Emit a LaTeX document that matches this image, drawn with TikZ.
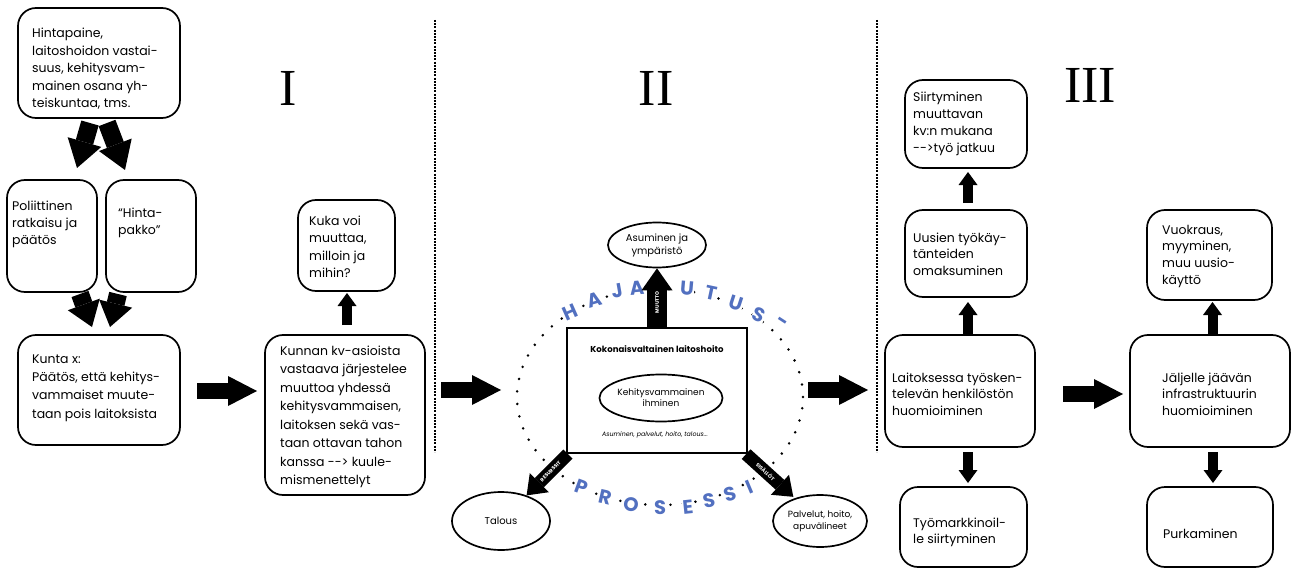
\documentclass[tikz,border=0pt]{standalone}
\usepackage{fontspec}
\setmainfont{Poppins}
\newfontfamily\numfont{Liberation Serif}
\usetikzlibrary{arrows.meta,calc,shapes.geometric}
\definecolor{letblue}{RGB}{82,112,192}
\newcommand\mylines[1]{\begin{tabular}[t]{@{}l@{}}#1\end{tabular}}
\begin{document}
\begin{tikzpicture}[x=1pt,y=-1pt,
 box/.style={draw, line width=1.7pt, rounded corners=18pt, inner sep=0pt, outer sep=0pt},
 txt/.style={anchor=base west, inner sep=0pt, font=\fontsize{12.5}{#1}\selectfont},
 txt/.default=17.5,
 oval/.style={draw, ellipse, line width=1.7pt, inner sep=0pt, align=center, font=\fontsize{9.5}{12.5}\selectfont},
 bigarr/.style={line width=16pt, -{Triangle[length=29pt,width=30pt,line width=0pt]}},
 diagarr/.style={line width=18pt, -{Triangle[length=27pt,width=35pt,line width=0pt]}},
 downarr/.style={line width=18pt, -{Triangle[length=24pt,width=34pt,line width=0pt]}},
 smallarr/.style={line width=10pt, -{Triangle[length=13pt,width=19pt,line width=0pt]}},
 midarr/.style={line width=13pt, -{Triangle[length=18pt,width=27pt,line width=0pt]}},
 muuarr/.style={line width=20pt, -{Triangle[length=22pt,width=31pt,line width=0pt]}},
 arrlab/.style={text=white, font=\fontsize{5}{5}\selectfont\bfseries, inner sep=0pt, sloped},
 sep/.style={line width=1.3pt, dash pattern=on 2pt off 1.2pt},
 letter/.style={text=letblue, font=\fontsize{19.5}{19.5}\selectfont\bfseries, fill=white, inner sep=0.5pt},
 numeral/.style={font=\numfont\fontsize{52}{52}\selectfont, inner sep=0pt}
]
\useasboundingbox (0,0) rectangle (1296,575);

% ---------- Section I ----------
\node[numeral] (n1) at (288,88) {I};
\node[box, minimum width=162pt, minimum height=110pt] (bA) at (99,63) {};
\node[txt] (tA) at (32,38) {\mylines{Hintapaine,\\laitoshoidon vastai-\\suus, kehitysvam-\\mainen osana yh-\\teiskuntaa, tms.}};
\node[box, minimum width=90pt, minimum height=112pt] (bB) at (52,236) {};
\node[txt] (tB) at (12,210) {\mylines{Poliittinen\\ratkaisu ja\\päätös}};
\node[box, minimum width=90pt, minimum height=112pt] (bC) at (151,236) {};
\node[txt] (tC) at (118,217) {\mylines{“Hinta-\\pakko”}};
\node[box, minimum width=162pt, minimum height=110pt] (bD) at (99,390) {};
\node[txt=18.4] (tD) at (32,363) {\mylines{Kunta x:\\Päätös, että kehitys-\\vammaiset muute-\\taan pois laitoksista}};
\node[box, minimum width=97pt, minimum height=91pt] (bE) at (346.5,245.5) {};
\node[txt=17.6] (tE) at (309,225) {\mylines{Kuka voi\\muuttaa,\\milloin ja\\mihin?}};
\node[box, minimum width=160pt, minimum height=160pt] (bF) at (345,415) {};
\node[txt=18.5] (tF) at (280,355) {\mylines{Kunnan kv-asioista\\vastaava järjestelee\\muuttoa yhdessä\\kehitysvammaisen,\\laitoksen sekä vas-\\taan ottavan tahon\\kanssa {-}{-}> kuule-\\mismenettelyt}};

\draw[diagarr] ($(bA.south)+(-9,5)$) -- ($(bB.north)+(25,-12)$);
\draw[diagarr] ($(bA.south)+(8,5)$) -- ($(bC.north)+(-26,-10)$);
\draw[downarr] ($(bB.south)+(28,2)$) -- ($(bD.north)+(-7,-8)$);
\draw[downarr] ($(bC.south)+(-33,2)$) -- ($(bD.north)+(11,-8)$);
\draw[bigarr] ($(bD.east)+(17,1)$) -- ($(bF.west |- bD.east)+(-8,1)$);
\draw[smallarr] ($(bF.north)+(2,-10)$) -- ($(bE.south)+(0.5,2)$);

\draw[sep] (435,20) coordinate (s1t) -- (435,452) coordinate (s1b);
\coordinate (a1s) at (441,390);
\coordinate (a1e) at (501,390);
\draw[bigarr] (a1s) -- (a1e);

% ---------- Section II ----------
\node[numeral] (n2) at (656,88) {II};
\draw[line width=2.8pt, dash pattern=on 0pt off 12.6pt, line cap=round] (660,397) ellipse [x radius=143pt, y radius=108pt];
\node[draw, line width=2.2pt, minimum width=180pt, minimum height=125pt, inner sep=0pt] (G) at (657,390.5) {};
\node[font=\fontsize{8.6}{10}\selectfont\bfseries] (Gt) at (657,349) {Kokonaisvaltainen laitoshoito};
\node[oval, minimum width=102pt, minimum height=47pt, font=\fontsize{9}{11}\selectfont] (kehi) at (661,398) {Kehitysvammainen\\ihminen};
\node[font=\fontsize{6.3}{8}\selectfont\itshape] (Gi) at (655,435) {Asuminen, palvelut, hoito, talous...};
\node[oval, minimum width=98pt, minimum height=45pt, font=\fontsize{10}{13}\selectfont] (asum) at (657,245) {Asuminen ja\\ympäristö};
\node[oval, minimum width=98pt, minimum height=58pt, font=\fontsize{10}{13}\selectfont] (tal) at (501,521) {Talous};
\node[oval, minimum width=94pt, minimum height=52pt, font=\fontsize{9}{12}\selectfont] (pal) at (820,521) {Palvelut, hoito,\\apuvälineet};

% letters
\node[letter, rotate=24] (h1) at (570,312) {H};
\node[letter, rotate=16] (h2) at (595,300) {A};
\node[letter, rotate=10] (h3) at (617,291) {J};
\node[letter, rotate=5] (h4) at (637,288) {A};
\node[letter, rotate=-5] (h5) at (687,288) {U};
\node[letter, rotate=-12] (h6) at (711,293) {T};
\node[letter, rotate=-18] (h7) at (736,303) {U};
\node[letter, rotate=-25] (h8) at (759,315) {S};
\node[letter, rotate=-33] (h9) at (781,323) {-};
\node[letter, rotate=-20] (p1) at (582,487) {P};
\node[letter, rotate=-13] (p2) at (605,497) {R};
\node[letter, rotate=-7] (p3) at (631,505) {O};
\node[letter] (p4) at (660,508) {S};
\node[letter, rotate=6] (p5) at (688,507) {E};
\node[letter, rotate=11] (p6) at (709,501) {S};
\node[letter, rotate=17] (p7) at (730,494) {S};
\node[letter, rotate=23] (p8) at (749,487) {I};

\draw[muuarr] (G.north -| asum.south) -- (asum.south) node[arrlab, pos=0.42] {MUUTTO};
\draw[midarr] ($(G.south west)+(2,0)$) -- (tal) node[arrlab, pos=0.42] {RESURSSIT};
\draw[midarr, shorten >=2pt] ($(G.south east)+(-2,0)$) -- (pal) node[arrlab, pos=0.4] {SISÄLLÖT};

\draw[sep] (877,20) coordinate (s2t) -- (877,452) coordinate (s2b);
\coordinate (a2s) at (808,390);
\coordinate (a2e) at (868,390);
\draw[bigarr] (a2s) -- (a2e);

% ---------- Section III ----------
\node[numeral] (n3) at (1090,85) {III};
\node[box, minimum width=122pt, minimum height=88pt] (s3a) at (966,124) {};
\node[txt=16.8] (t3a) at (913,102) {\mylines{Siirtyminen\\muuttavan\\kv:n mukana\\{-}{-}>työ jatkuu}};
\node[box, minimum width=122pt, minimum height=87pt] (s3b) at (966,253.5) {};
\node[txt=16.8] (t3b) at (913,242) {\mylines{Uusien työkäy-\\tänteiden\\omaksuminen}};
\node[box, minimum width=150pt, minimum height=112pt] (s3c) at (960,391) {};
\node[txt=16.8] (t3c) at (892,382) {\mylines{Laitoksessa työsken-\\televän henkilöstön\\huomioiminen}};
\node[box, minimum width=127pt, minimum height=80pt] (s3d) at (963.5,527) {};
\node[txt=16.8] (t3d) at (913,527) {\mylines{Työmarkkinoil-\\le siirtyminen}};
\node[box, minimum width=125pt, minimum height=90pt] (r1) at (1209.5,255) {};
\node[txt=16.8] (tr1) at (1162,234) {\mylines{Vuokraus,\\myyminen,\\muu uusio-\\käyttö}};
\node[box, minimum width=160pt, minimum height=112pt] (r2) at (1210,391) {};
\node[txt=16.8] (tr2) at (1162,382) {\mylines{Jäljelle jäävän\\infrastruktuurin\\huomioiminen}};
\node[box, minimum width=126pt, minimum height=80pt] (r3) at (1210,527) {};
\node[txt] (tr3) at (1163,538) {\mylines{Purkaminen}};

\draw[smallarr] ($(s3b.north)+(2,-7)$) -- ($(s3a.south)+(2,4)$);
\draw[smallarr] ($(s3b.south |- s3c.north)+(2,0)$) -- ($(s3b.south)+(2,5)$);
\draw[smallarr] ($(r1.south |- r2.north)+(3,0)$) -- ($(r1.south)+(3,2)$);
\draw[smallarr] ($(s3b.south |- s3c.south)+(2,5)$) -- ($(s3b.south |- s3d.north)+(2,-4)$);
\draw[smallarr] ($(r2.south)+(3,5)$) -- ($(r3.north)+(3,-4)$);
\draw[bigarr] ($(s3c.east)+(28,3)$) -- ($(r2.west)+(-7,3)$);
\end{tikzpicture}
\end{document}
